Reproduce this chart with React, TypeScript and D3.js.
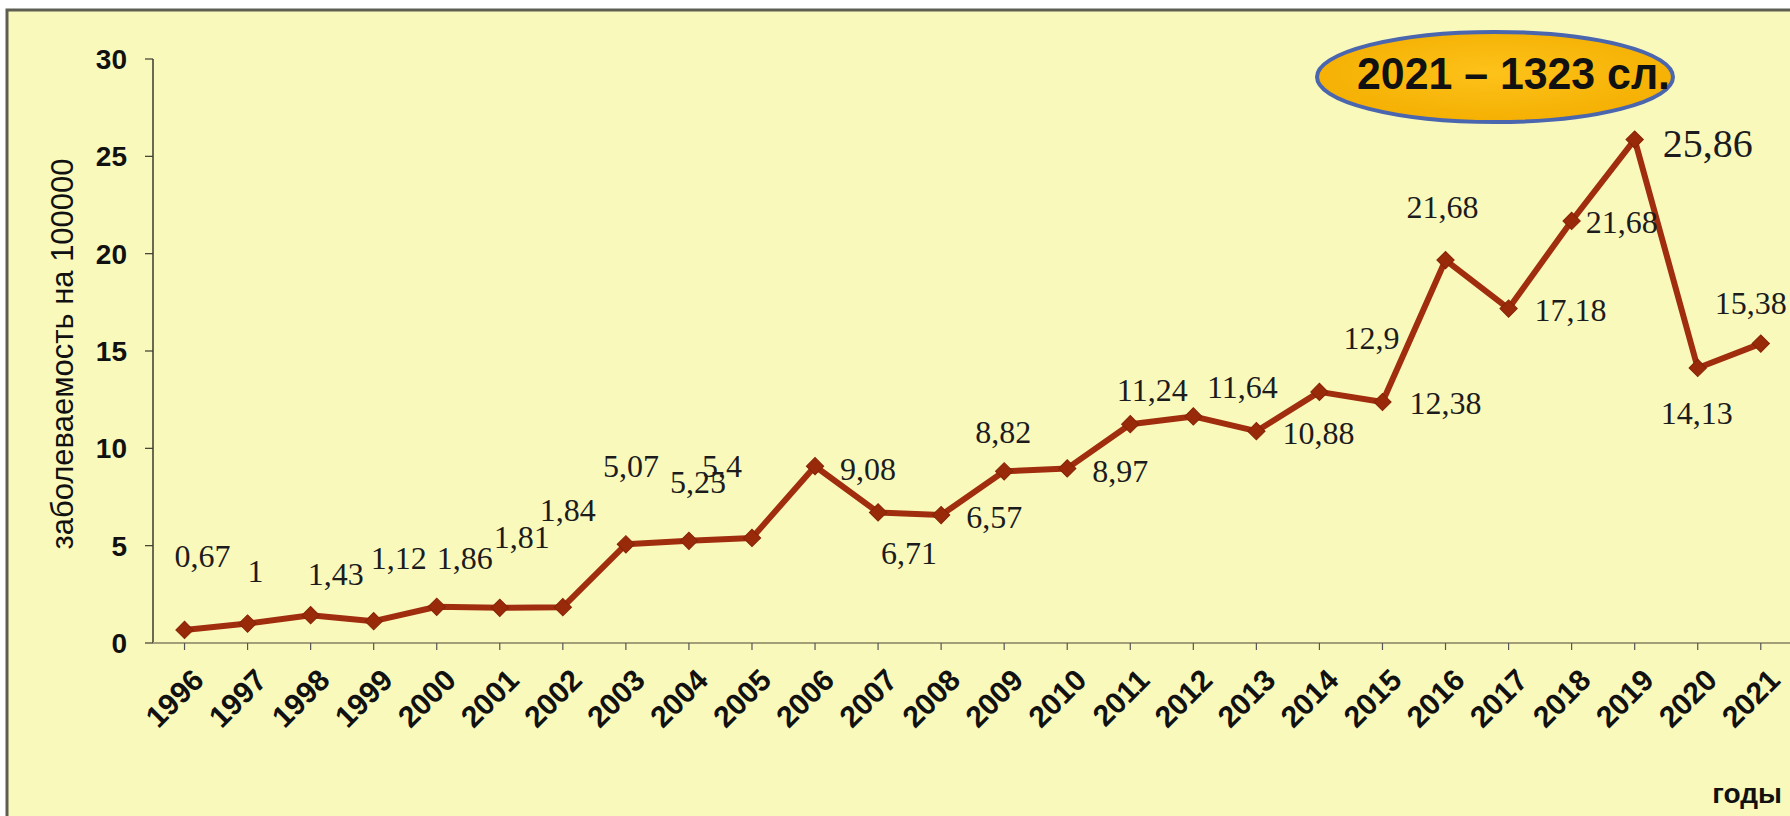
import React from "react";
import * as d3 from "d3";

// ---- data ----
const years = ["1996","1997","1998","1999","2000","2001","2002","2003","2004","2005","2006","2007","2008","2009","2010","2011","2012","2013","2014","2015","2016","2017","2018","2019","2020","2021"];
const values = [0.67, 1, 1.43, 1.12, 1.86, 1.81, 1.84, 5.07, 5.25, 5.4, 9.08, 6.71, 6.57, 8.82, 8.97, 11.24, 11.64, 10.88, 12.9, 12.38, 19.67, 17.18, 21.68, 25.86, 14.13, 15.38];
const valueLabels = ["0,67","1","1,43","1,12","1,86","1,81","1,84","5,07","5,25","5,4","9,08","6,71","6,57","8,82","8,97","11,24","11,64","10,88","12,9","12,38","21,68","17,18","21,68","25,86","14,13","15,38"];
const yTicks = [0, 5, 10, 15, 20, 25, 30];
const yTitle = "заболеваемость на 100000";
const xTitle = "годы";
const badgeText = "2021 – 1323 сл.";

// ---- layout (label placement relative to each point) ----
const labelOffsets: [number, number][] = [
  [18, -74], [8, -52], [25, -41], [25, -63], [28, -49], [22, -71], [5, -97],
  [5, -78], [9, -59], [-30, -72], [53, 3], [31, 41], [53, 2], [-1, -39],
  [53, 3], [22, -34], [49, -29], [62, 2], [52, -54], [63, 1], [-3, -53],
  [62, 2], [50, 1], [73, 4], [-1, 45], [-10, -40],
];
const labelSize = (i: number) => (i === 23 ? 40 : 32);

const W = 1790;
const H = 816;
const plotLeft = 153;
const bandW = 63.05;
const y0 = 643;
const y30 = 59;

export default function App() {
  const x = d3
    .scaleBand<string>()
    .domain(years)
    .range([plotLeft, plotLeft + bandW * years.length])
    .paddingInner(0)
    .paddingOuter(0);
  const cx = (yr: string) => (x(yr) as number) + x.bandwidth() / 2;
  const y = d3.scaleLinear().domain([0, 30]).range([y0, y30]);

  const line = d3
    .line<number>()
    .x((_, i) => cx(years[i]))
    .y((d) => y(d));

  const diamond = d3.symbol().type(d3.symbolSquare).size(150)() as string;

  const sans = "'Liberation Sans', Arial, sans-serif";
  const serif = "'Liberation Serif', 'Times New Roman', serif";

  return (
    <div style={{ position: "absolute", left: 0, top: 0, width: W, height: H, overflow: "hidden" }}>
      <svg width={W} height={H} style={{ display: "block" }}>
        <defs>
          <radialGradient id="badgeFill" cx="50%" cy="45%" r="60%">
            <stop offset="0%" stopColor="#FDC21A" />
            <stop offset="100%" stopColor="#F4AE00" />
          </radialGradient>
        </defs>
        <rect x={0} y={0} width={W} height={H} fill="#ffffff" />
        <rect x={7} y={10} width={W + 20} height={H + 20} fill="#FAF9BC" stroke="#5E5E52" strokeWidth={3} />

        {/* y axis */}
        <line x1={plotLeft} x2={plotLeft} y1={y(30)} y2={y(0)} stroke="#3a3a30" strokeWidth={1.5} />
        {yTicks.map((t) => (
          <g key={t}>
            <line x1={plotLeft - 8} x2={plotLeft} y1={y(t)} y2={y(t)} stroke="#3a3a30" strokeWidth={1.2} />
            <text
              x={127}
              y={y(t) + 10}
              textAnchor="end"
              fontFamily={sans}
              fontWeight="bold"
              fontSize={28}
              fill="#111"
            >
              {t}
            </text>
          </g>
        ))}
        <text
          transform={`translate(73, 354) rotate(-90)`}
          textAnchor="middle"
          fontFamily={sans}
          fontSize={31}
          fill="#111"
        >
          {yTitle}
        </text>

        {/* x axis */}
        <line x1={plotLeft} x2={W} y1={y(0)} y2={y(0)} stroke="#A39E78" strokeWidth={2} />
        {years.map((yr) => (
          <g key={yr}>
            <line x1={cx(yr)} x2={cx(yr)} y1={y(0)} y2={y(0) + 7} stroke="#555" strokeWidth={1.2} />
            <text
              transform={`translate(${cx(yr) + 21}, ${y(0) + 39}) rotate(-45)`}
              textAnchor="end"
              fontFamily={sans}
              fontWeight="bold"
              fontSize={30}
              fill="#111"
            >
              {yr}
            </text>
          </g>
        ))}
        <text x={1782} y={803} textAnchor="end" fontFamily={sans} fontWeight="bold" fontSize={28} fill="#111">
          {xTitle}
        </text>

        {/* series */}
        <path d={line(values) as string} fill="none" stroke="#A02E0E" strokeWidth={6} strokeLinejoin="round" />
        {values.map((v, i) => (
          <path
            key={i}
            d={diamond}
            transform={`translate(${cx(years[i])}, ${y(v)}) rotate(45)`}
            fill="#982A0A"
            stroke="#862307"
            strokeWidth={1}
          />
        ))}
        {values.map((v, i) => (
          <text
            key={"l" + i}
            x={cx(years[i]) + labelOffsets[i][0]}
            y={y(v) + labelOffsets[i][1] + labelSize(i) * 0.34}
            textAnchor="middle"
            fontFamily={serif}
            fontSize={labelSize(i)}
            fill="#1c1c1c"
          >
            {valueLabels[i]}
          </text>
        ))}

        {/* badge */}
        <ellipse cx={1495} cy={77} rx={178} ry={45} fill="url(#badgeFill)" stroke="#4A66AE" strokeWidth={4} />
        <text
          x={1357}
          y={89}
          fontFamily={sans}
          fontWeight="bold"
          fontSize={45}
          fill="#111"
          textLength={313}
          lengthAdjust="spacingAndGlyphs"
        >
          {badgeText}
        </text>
      </svg>
    </div>
  );
}
